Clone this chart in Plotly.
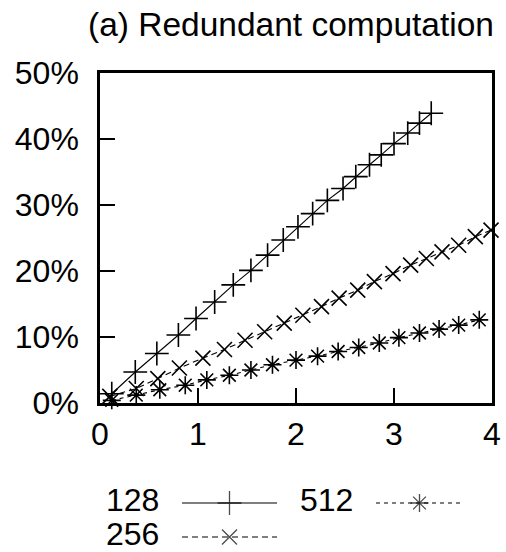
import plotly.graph_objects as go

# ---- data ----
x_128 = [0.12, 0.36, 0.58, 0.80, 0.98, 1.17, 1.36, 1.54, 1.71, 1.87, 2.02, 2.17,
         2.32, 2.48, 2.61, 2.75, 2.87, 3.00, 3.14, 3.26, 3.38]
y_128 = [1.4, 4.7, 7.5, 10.3, 12.8, 15.3, 17.9, 20.1, 22.4, 24.7, 26.7, 28.7,
         30.7, 32.5, 34.3, 36.1, 37.6, 39.3, 40.9, 42.4, 43.9]

x_256 = [0.10, 0.37, 0.59, 0.81, 1.05, 1.27, 1.48, 1.68, 1.88, 2.07, 2.26, 2.44,
         2.63, 2.80, 2.99, 3.17, 3.33, 3.49, 3.66, 3.83, 3.99]
y_256 = [1.0, 2.2, 3.7, 5.3, 6.8, 8.1, 9.5, 10.8, 12.1, 13.3, 14.6, 15.9,
         17.1, 18.4, 19.6, 20.9, 21.9, 22.9, 23.9, 25.2, 26.2]

x_512 = [0.12, 0.37, 0.61, 0.87, 1.09, 1.32, 1.54, 1.76, 2.00, 2.22, 2.43, 2.64,
         2.85, 3.05, 3.26, 3.46, 3.66, 3.87]
y_512 = [0.4, 1.2, 2.0, 2.7, 3.5, 4.2, 5.0, 5.8, 6.5, 7.1, 7.8, 8.4,
         9.1, 9.9, 10.6, 11.2, 11.8, 12.6]

series_names = ["128", "256", "512"]
y_ticks = [0, 10, 20, 30, 40, 50]
y_tick_labels = ["0%", "10%", "20%", "30%", "40%", "50%"]
x_ticks = [0, 1, 2, 3, 4]
title_text = "(a) Redundant computation"

W, H = 506, 552
FONT = "Liberation Sans, Arial, Helvetica, sans-serif"

styles = {
    "128": dict(dash="solid", symbol="cross-thin", size=17),
    "256": dict(dash="6px,4px", symbol="x-thin", size=15),
    "512": dict(dash="4px,4px", symbol="asterisk", size=15),
}

fig = go.Figure()
for name, xs, ys in zip(series_names, [x_128, x_256, x_512], [y_128, y_256, y_512]):
    st = styles[name]
    fig.add_trace(go.Scatter(
        x=xs, y=ys, mode="lines+markers", name=name, showlegend=False,
        line=dict(color="black", width=1.1, dash=st["dash"]),
        marker=dict(symbol=st["symbol"], size=st["size"], color="black",
                    line=dict(color="black", width=1.6)),
        xaxis="x", yaxis="y", cliponaxis=False,
    ))

# ---- custom legend (label left of sample, gnuplot style) on a pixel overlay axis ----
legend_pos = {"128": (106, 182, 277, 503), "256": (106, 182, 277, 537), "512": (300, 376, 463, 503)}
for name in series_names:
    tx, x0, x1, yy = legend_pos[name]
    st = styles[name]
    fig.add_trace(go.Scatter(
        x=[x0, (x0 + x1) / 2, x1], y=[yy, yy, yy], mode="lines+markers",
        showlegend=False, hoverinfo="skip", xaxis="x2", yaxis="y2", cliponaxis=False,
        line=dict(color="black", width=1.1, dash=st["dash"]),
        marker=dict(symbol=st["symbol"], size=[0, st["size"], 0], color="black",
                    line=dict(color="black", width=1.3)),
    ))
    fig.add_trace(go.Scatter(
        x=[tx], y=[yy], mode="text", text=[name], textposition="middle right",
        showlegend=False, hoverinfo="skip", xaxis="x2", yaxis="y2", cliponaxis=False,
        textfont=dict(size=32, family=FONT, color="black"),
    ))

fig.add_annotation(x=291 / W, y=1 - 25 / H, xref="paper", yref="paper",
                   text=title_text, showarrow=False, xanchor="center", yanchor="middle",
                   font=dict(size=33.5, family=FONT, color="black"))

axis_common = dict(showgrid=False, zeroline=False, showline=True, linecolor="black",
                   linewidth=2.5, mirror=True, ticks="inside", ticklen=15, tickwidth=2.2,
                   tickcolor="black", automargin=False,
                   tickfont=dict(size=32, family=FONT, color="black"))

fig.update_layout(
    width=W, height=H, margin=dict(l=0, r=0, t=0, b=0, pad=0, autoexpand=False),
    paper_bgcolor="white", plot_bgcolor="rgba(0,0,0,0)", showlegend=False,
    font=dict(family=FONT, color="black"),
    xaxis=dict(domain=[100 / W, 492 / W], range=[0, 4], tickmode="array", tickvals=x_ticks,
               anchor="y", ticklabelstandoff=1, **axis_common),
    yaxis=dict(domain=[(H - 403) / H, (H - 73) / H], range=[0, 50], tickmode="array",
               tickvals=y_ticks, ticktext=y_tick_labels,
               anchor="x", ticklabelstandoff=12, **axis_common),
    xaxis2=dict(domain=[0, 1], range=[0, W], visible=False, anchor="y2", fixedrange=True,
                automargin=False),
    yaxis2=dict(domain=[0, 1], range=[H, 0], visible=False, anchor="x2", fixedrange=True,
                automargin=False),
)

fig.write_html("out.html")
